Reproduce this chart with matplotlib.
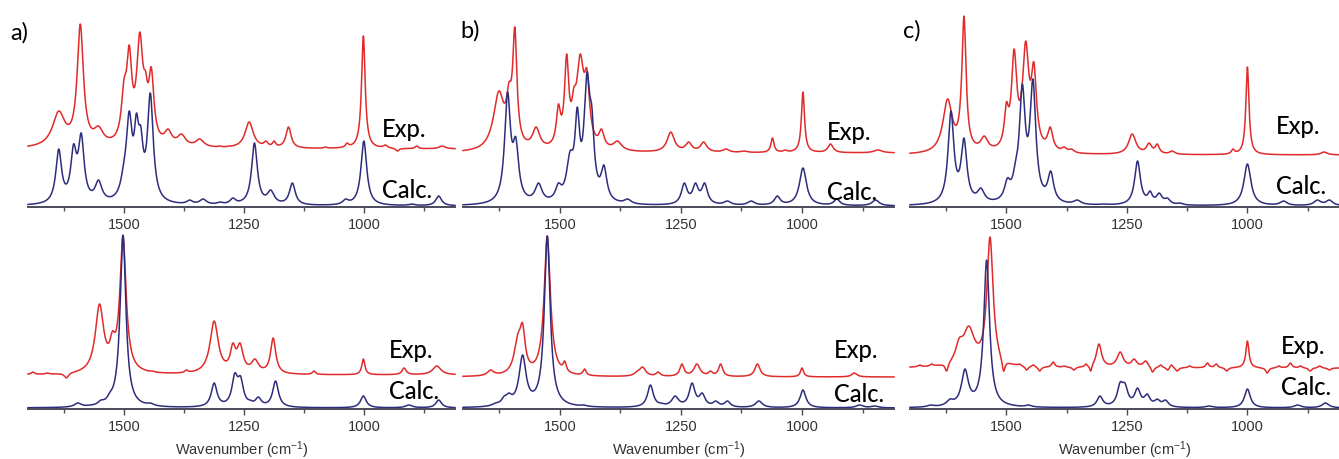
import numpy as np
import matplotlib.pyplot as plt
from matplotlib.ticker import FixedLocator

plt.rcParams['font.family'] = ['Liberation Sans', 'DejaVu Sans']
plt.rcParams['mathtext.default'] = 'regular'

EXP_COLOR = '#e12a2a'
CALC_COLOR = '#2e2d7c'
AXIS_COLOR = '#4b4b5c'

wavenumber = np.linspace(1700, 810, 1800)

# peak tables: (position / cm-1, height, half width) -- heights in px above baseline
a_top_exp = [(1636, 38, 12), (1591, 125, 6), (1553, 23, 9), (1500, 70, 5), (1489, 104, 5),
             (1467, 117, 6), (1455, 78, 4), (1443, 82, 5), (1408, 20, 7), (1380, 15, 8),
             (1342, 10, 8), (1300, 3, 3), (1280, 3, 3), (1239, 27, 8), (1204, 8, 4),
             (1187, 8, 3), (1157, 22, 5), (1080, 2, 3), (1035, 6, 3), (1001, 113, 3.5),
             (955, 4, 4), (930, -2, 3), (890, 3, 3), (837, 3, 6)]
a_top_calc = [(1636, 57, 5), (1605, 62, 5), (1589, 73, 5), (1553, 26, 6), (1500, 45, 6),
              (1489, 95, 5), (1474, 93, 4), (1465, 80, 4), (1445, 113, 5), (1363, 6, 5),
              (1335, 7, 6), (1300, 4, 5), (1273, 8, 5), (1228, 63, 5), (1194, 16, 6),
              (1149, 23, 5), (1038, 7, 5), (1000, 65, 5), (900, 2, 5), (844, 10, 5)]
a_bot_exp = [(1690, 3, 3), (1660, 2, 3), (1620, -3, 4), (1551, 71, 8), (1524, 44, 5),
             (1502, 139, 6), (1440, 4, 3), (1370, 5, 3), (1312, 54, 8), (1290, 10, 5),
             (1273, 32, 5), (1258, 32, 6), (1227, 16, 7), (1189, 37, 5), (1104, 4, 3),
             (1001, 16, 3), (916, 7, 4), (848, 9, 8)]
a_bot_calc = [(1596, 5, 6), (1570, 3, 6), (1548, 8, 5), (1529, 16, 5), (1502, 173, 5),
              (1445, 5, 6), (1312, 25, 5), (1269, 35, 5), (1257, 32, 5), (1237, 8, 4),
              (1220, 11, 5), (1184, 27, 5), (1001, 12, 5), (906, 3, 6), (844, 8, 5)]

b_top_exp = [(1640, 30, 10), (1626, 62, 10), (1605, 71, 5), (1593, 126, 4), (1549, 26, 7),
             (1503, 49, 4), (1486, 99, 4), (1471, 66, 4), (1458, 99, 7), (1444, 84, 5),
             (1414, 24, 5), (1381, 12, 8), (1271, 21, 7), (1234, 11, 6), (1203, 11, 6),
             (1157, 4, 6), (1120, 2, 6), (1061, 15, 3), (1035, 3, 4), (998, 61, 3),
             (941, 9, 5), (843, 3, 8)]
b_top_calc = [(1608, 114, 5), (1591, 69, 5), (1544, 23, 6), (1503, 23, 5), (1479, 55, 6),
              (1464, 99, 4), (1444, 134, 5), (1434, 100, 4), (1409, 41, 5), (1360, 7, 6),
              (1243, 23, 5), (1220, 23, 5), (1201, 23, 5), (1154, 5, 6), (1105, 5, 6),
              (1051, 10, 5), (998, 38, 6), (928, 7, 5), (848, 6, 6)]
b_bot_exp = [(1643, 7, 6), (1587, 43, 7), (1577, 54, 5), (1526, 141, 6), (1490, 16, 3),
             (1449, 8, 3), (1340, 6, 6), (1329, 10, 6), (1297, 5, 4), (1248, 13, 4),
             (1217, 13, 6), (1189, 6, 4), (1168, 13, 4), (1092, 13, 5), (1000, 9, 3),
             (892, 4, 5)]
b_bot_calc = [(1633, 5, 6), (1615, 12, 5), (1605, 15, 5), (1577, 53, 6), (1526, 172, 5),
              (1451, 3, 5), (1313, 23, 5), (1290, 5, 5), (1262, 12, 6), (1227, 25, 5),
              (1206, 15, 5), (1178, 7, 5), (1154, 7, 5), (1089, 7, 6), (998, 18, 5),
              (881, 3, 6), (850, 2, 6)]

c_top_exp = [(1622, 56, 9), (1595, 59, 4), (1588, 139, 4), (1546, 19, 7), (1500, 53, 4),
             (1484, 106, 5), (1460, 114, 6), (1443, 93, 5), (1409, 28, 5), (1380, 8, 5),
             (1365, 6, 5), (1239, 21, 7), (1204, 12, 5), (1187, 11, 4), (1156, 4, 5),
             (1030, 6, 3), (1000, 88, 3), (841, 3, 6)]
c_top_calc = [(1615, 95, 5), (1588, 68, 5), (1553, 18, 6), (1498, 28, 5), (1481, 45, 5),
              (1467, 122, 5), (1445, 127, 5), (1408, 35, 5), (1353, 6, 6), (1300, 2, 6),
              (1228, 45, 5), (1202, 15, 4), (1183, 13, 5), (1166, 8, 5), (1140, 3, 5),
              (1030, 3, 5), (1000, 42, 6), (925, 5, 6), (855, 6, 6), (830, 6, 6)]
c_bot_exp = [(1680, 3, 3), (1655, 4, 3), (1640, 2, 3), (1624, -3, 3), (1598, 30, 7),
             (1578, 42, 11), (1534, 131, 6), (1506, -3, 3), (1473, 4, 3),
             (1458, -2, 3), (1444, 3, 3), (1431, -3, 3), (1403, 6, 3), (1380, 2, 3),
             (1360, -2, 3), (1335, 4, 2), (1325, -3, 2), (1308, 24, 5), (1264, 16, 6),
             (1235, 9, 5), (1211, 7, 5), (1197, -4, 3), (1180, 3, 3), (1165, -2, 3),
             (1158, 3, 3), (1146, -3, 3), (1120, 2, 3), (1083, 5, 3), (1065, 4, 3),
             (1043, -3, 3), (1000, 27, 3), (959, -5, 3), (935, 2, 3), (911, 5, 3),
             (890, 2, 3), (870, -3, 3), (850, 2, 3), (830, -2, 3)]
c_bot_calc = [(1657, 3, 6), (1617, 9, 6), (1600, 10, 5), (1586, 39, 6), (1541, 148, 5),
              (1454, 3, 5), (1306, 12, 5), (1264, 26, 5), (1254, 25, 5), (1228, 20, 5),
              (1208, 14, 5), (1187, 9, 5), (1170, 8, 5), (1080, 2, 6), (1000, 19, 5),
              (896, 3, 6), (838, 5, 6)]

# baseline offsets of each trace (px above the axis line)
exp_offsets = {'a': (58, 34), 'b': (54, 32), 'c': (52, 41)}
calc_offset = 1
# line broadening applied on top of the tabulated half widths
exp_broadening = 1.3
calc_broadening = 1.45

panels = {
    'a': (a_top_exp, a_top_calc, a_bot_exp, a_bot_calc),
    'b': (b_top_exp, b_top_calc, b_bot_exp, b_bot_calc),
    'c': (c_top_exp, c_top_calc, c_bot_exp, c_bot_calc),
}


def spectrum(x, peaks, broadening=1.0):
    pos = np.array([p[0] for p in peaks], float)
    hgt = np.array([p[1] for p in peaks], float)
    hw = np.array([p[2] for p in peaks], float) * broadening
    # amplitudes tuned so the summed lorentzians hit the given heights at each position
    K = 1.0 / (1.0 + ((pos[:, None] - pos[None, :]) / hw[None, :]) ** 2)
    amp = hgt.copy()
    for _ in range(80):
        amp = amp + 0.5 * (hgt - K @ amp)
        amp = np.where(hgt > 0, np.clip(amp, 0, None), amp)
    return (amp[None, :] / (1.0 + ((x[:, None] - pos[None, :]) / hw[None, :]) ** 2)).sum(axis=1)


W, H = 1339, 460
fig = plt.figure(figsize=(W / 100, H / 100), dpi=100)

columns = {'a': (28, 455), 'b': (463, 894), 'c': (910, 1339)}
rows = [(0, 208), (230, 410)]  # top / bottom in px (top edge, axis line)
text_pos = {
    'a': [((382, 130), (382, 190)), ((389, 350), (389, 392))],
    'b': [((827, 133), (827, 193)), ((834, 350), (834, 395))],
    'c': [((1276, 127), (1276, 187)), ((1281, 347), (1281, 388))],
}
letter_pos = {'a': (10, 33), 'b': (460, 31), 'c': (903, 31)}

for key, (left, right) in columns.items():
    exp_top, calc_top, exp_bot, calc_bot = panels[key]
    traces = [(exp_top, calc_top), (exp_bot, calc_bot)]
    for r, (top, base) in enumerate(rows):
        ax = fig.add_axes([left / W, 1 - base / H, (right - left) / W, (base - top) / H])
        exp_peaks, calc_peaks = traces[r]
        ax.plot(wavenumber, spectrum(wavenumber, exp_peaks, exp_broadening) + exp_offsets[key][r],
                color=EXP_COLOR, lw=1.1, clip_on=False)
        ax.plot(wavenumber, spectrum(wavenumber, calc_peaks, calc_broadening) + calc_offset,
                color=CALC_COLOR, lw=1.1, clip_on=False)
        ax.set_xlim(1700, 810)
        ax.set_ylim(0, base - top)
        for s in ('left', 'right', 'top'):
            ax.spines[s].set_visible(False)
        ax.spines['bottom'].set_color(AXIS_COLOR)
        ax.spines['bottom'].set_linewidth(1.4)
        ax.set_yticks([])
        ax.xaxis.set_major_locator(FixedLocator([1500, 1250, 1000]))
        ax.xaxis.set_minor_locator(FixedLocator([1625, 1375, 1125, 875]))
        ax.tick_params(axis='x', which='major', direction='out', length=4, width=1,
                       color=AXIS_COLOR, labelsize=10.5, labelcolor='#333333', pad=3)
        ax.tick_params(axis='x', which='minor', direction='out', length=3, width=1,
                       color=AXIS_COLOR)
        ax.patch.set_alpha(0)
        if r == 1:
            ax.set_xlabel('Wavenumber (cm$^{-1}$)', fontsize=10.5, color='#333333', labelpad=4)

        (ex, ey), (cx, cy) = text_pos[key][r]
        fig.text(ex / W, 1 - ey / H, 'Exp.', fontsize=17, family='Lato', weight='medium',
                 va='center', ha='left')
        fig.text(cx / W, 1 - cy / H, 'Calc.', fontsize=17, family='Lato', weight='medium',
                 va='center', ha='left')

    lx, ly = letter_pos[key]
    fig.text(lx / W, 1 - ly / H, key + ')', fontsize=17, family='Lato', va='center', ha='left')

fig.savefig('out.png', dpi=100)
